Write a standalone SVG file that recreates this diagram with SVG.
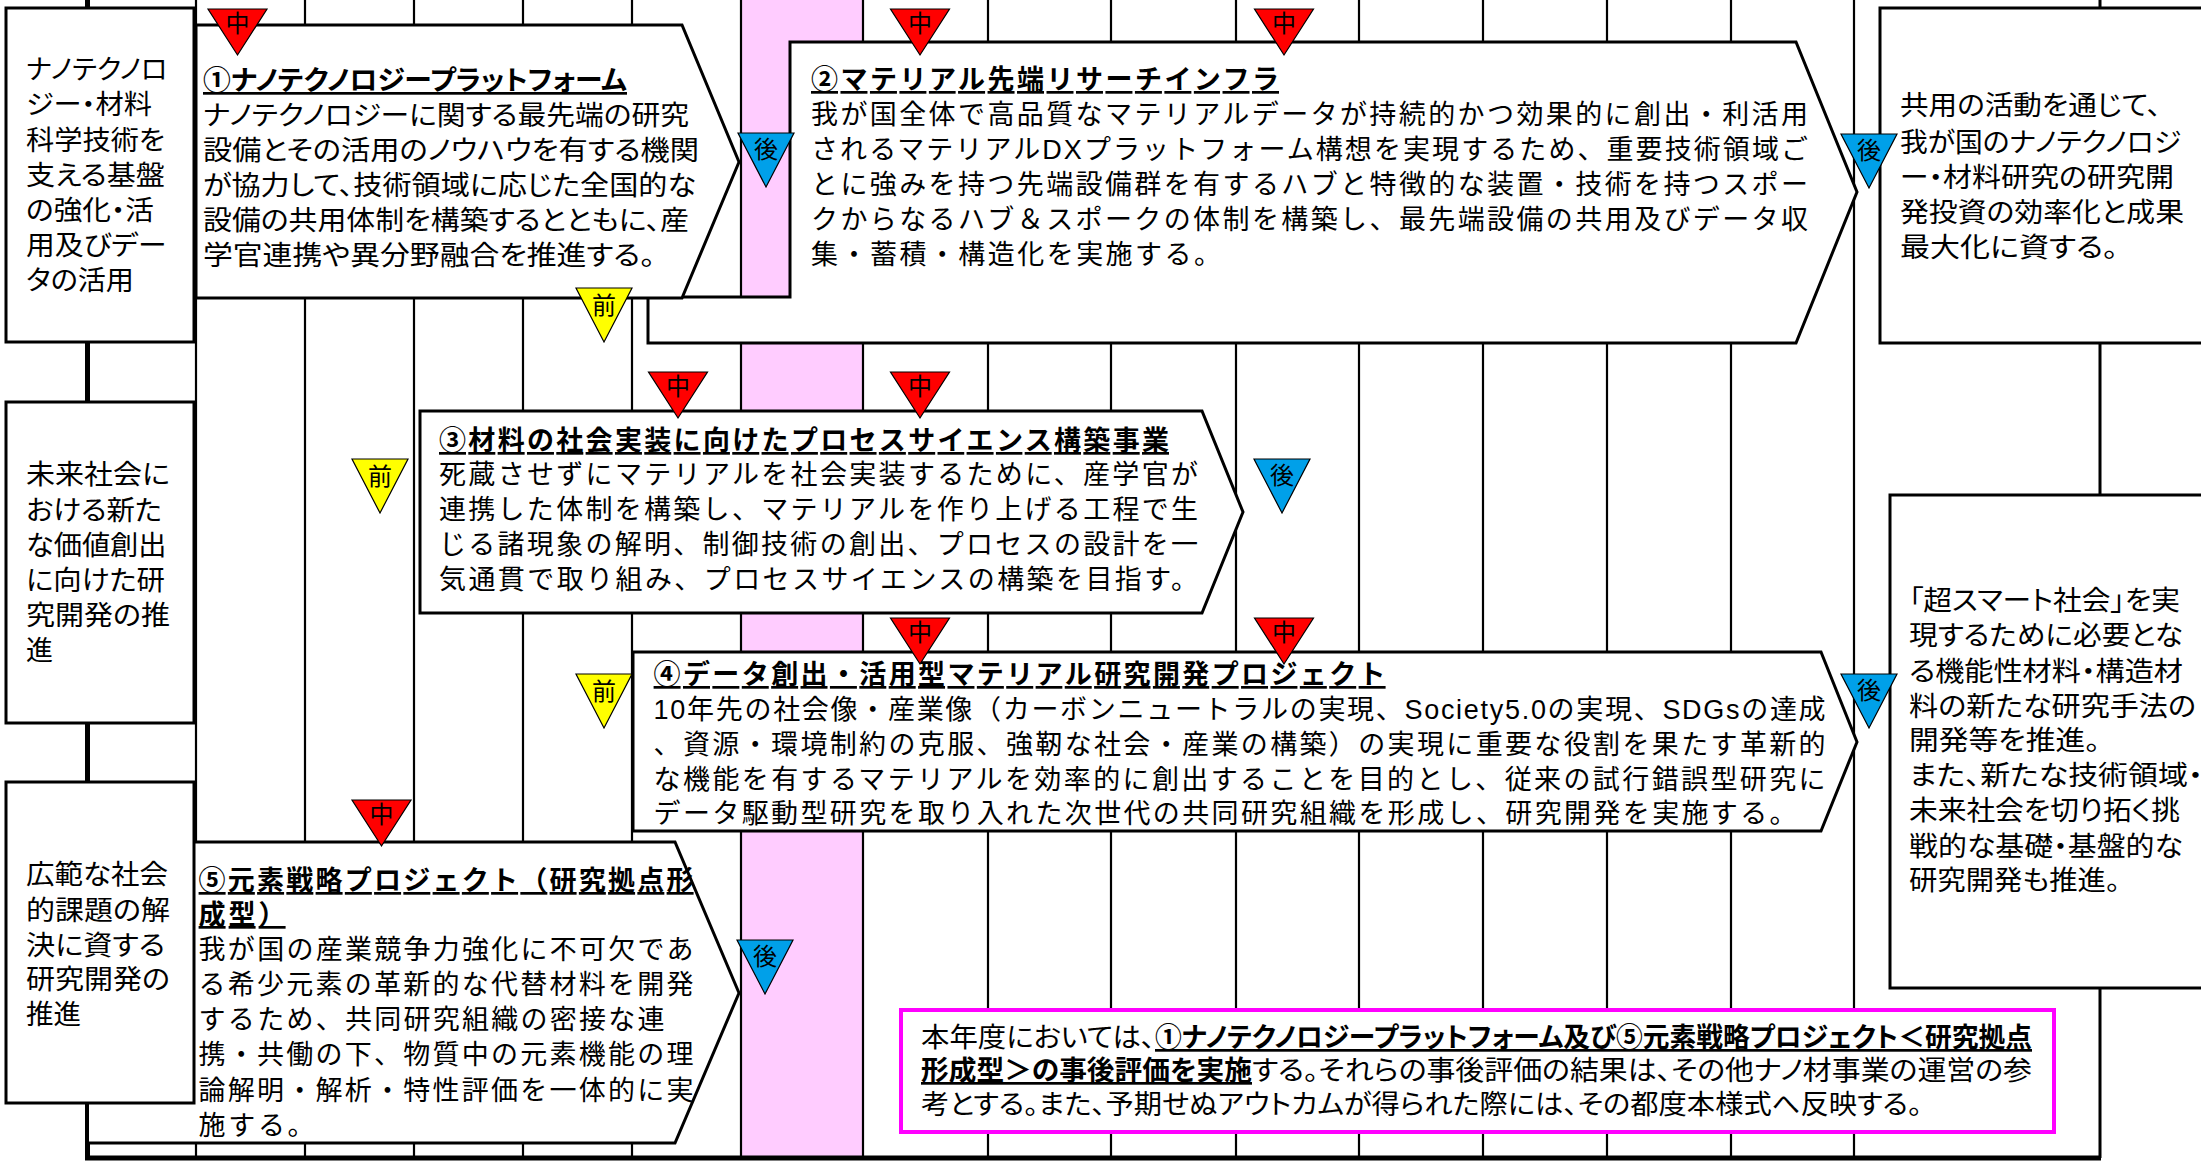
<svg xmlns="http://www.w3.org/2000/svg" xmlns:xlink="http://www.w3.org/1999/xlink" width="2201" height="1162" viewBox="0 0 2201 1162">
<style>
.grid{stroke:#000;stroke-width:2.2;fill:none}
.axis{stroke:#000;stroke-width:5;fill:none}
.box{fill:#fff;stroke:#000;stroke-width:3}
.note{fill:#fff;stroke:#FF00FF;stroke-width:4}
.t{font-family:"Liberation Sans","Noto Sans CJK JP",sans-serif;font-size:27px;fill:#000}
.p{font-feature-settings:"palt"}
.b{font-weight:bold}
.u{text-decoration:underline}
.m{font-family:"Liberation Sans","Noto Sans CJK JP",sans-serif;font-size:24px;fill:#000;text-anchor:middle}
.tr{stroke:#000;stroke-width:1.2}
.red{fill:#FF0000}
.yel{fill:#FFFF00}
.blu{fill:#00A0E9}
</style>
<defs>
<path id="triR" d="M0,0 H59 L29.5,46 Z"/>
<path id="triY" d="M0,0 H56 L28,54 Z"/>
</defs>
<rect width="2201" height="1162" fill="#fff"/>
<rect id="pink-column" x="741" y="0" width="122" height="1158" fill="#FFCCFF"/>
<g id="grid">
<line class="grid" x1="196" y1="0" x2="196" y2="1158"/>
<line class="grid" x1="305" y1="0" x2="305" y2="1158"/>
<line class="grid" x1="414" y1="0" x2="414" y2="1158"/>
<line class="grid" x1="523" y1="0" x2="523" y2="1158"/>
<line class="grid" x1="632" y1="0" x2="632" y2="1158"/>
<line class="grid" x1="741" y1="0" x2="741" y2="1158"/>
<line class="grid" x1="863" y1="0" x2="863" y2="1158"/>
<line class="grid" x1="988" y1="0" x2="988" y2="1158"/>
<line class="grid" x1="1111" y1="0" x2="1111" y2="1158"/>
<line class="grid" x1="1236" y1="0" x2="1236" y2="1158"/>
<line class="grid" x1="1359" y1="0" x2="1359" y2="1158"/>
<line class="grid" x1="1483" y1="0" x2="1483" y2="1158"/>
<line class="grid" x1="1607" y1="0" x2="1607" y2="1158"/>
<line class="grid" x1="1731" y1="0" x2="1731" y2="1158"/>
<line class="grid" x1="1854" y1="0" x2="1854" y2="1158"/>
<line class="grid" x1="2100" y1="0" x2="2100" y2="1158" style="stroke-width:3"/>
<line class="axis" x1="87.5" y1="0" x2="87.5" y2="1158"/>
<line class="axis" x1="85" y1="1158" x2="2101" y2="1158"/>
</g>

<g id="box5">
<polygon class="box" points="87.5,842 675,842 739,993 675,1143 87.5,1143"/>
<text class="t b u" x="198.6" y="890" textLength="495">⑤元素戦略プロジェクト（研究拠点形</text>
<text class="t b u" x="198.6" y="924" textLength="87">成型）</text>
<text class="t" x="198.6" y="959" textLength="495">我が国の産業競争力強化に不可欠であ</text>
<text class="t" x="198.6" y="994" textLength="495">る希少元素の革新的な代替材料を開発</text>
<text class="t" x="198.6" y="1029" textLength="466">するため、共同研究組織の密接な連</text>
<text class="t" x="198.6" y="1064" textLength="495">携・共働の下、物質中の元素機能の理</text>
<text class="t" x="198.6" y="1100" textLength="495">論解明・解析・特性評価を一体的に実</text>
<text class="t" x="198.6" y="1135" textLength="116">施する。</text>
</g>

<g id="left1">
<rect class="box" x="6" y="8" width="188" height="334"/>
<text class="t p" x="26" y="79" textLength="141.5" lengthAdjust="spacingAndGlyphs">ナノテクノロ</text>
<text class="t p" x="26" y="114" textLength="126" lengthAdjust="spacingAndGlyphs">ジー・材料</text>
<text class="t p" x="26" y="150" textLength="139" lengthAdjust="spacingAndGlyphs">科学技術を</text>
<text class="t p" x="26" y="185" textLength="139" lengthAdjust="spacingAndGlyphs">支える基盤</text>
<text class="t p" x="26" y="220" textLength="128" lengthAdjust="spacingAndGlyphs">の強化・活</text>
<text class="t p" x="26" y="255" textLength="140.5" lengthAdjust="spacingAndGlyphs">用及びデー</text>
<text class="t p" x="26" y="290" textLength="108" lengthAdjust="spacingAndGlyphs">タの活用</text>
</g>

<g id="left2">
<rect class="box" x="6" y="402" width="188" height="321"/>
<text class="t p" x="26" y="484" textLength="144" lengthAdjust="spacingAndGlyphs">未来社会に</text>
<text class="t p" x="26" y="520" textLength="136" lengthAdjust="spacingAndGlyphs">おける新た</text>
<text class="t p" x="26" y="555" textLength="140.5" lengthAdjust="spacingAndGlyphs">な価値創出</text>
<text class="t p" x="26" y="590" textLength="139" lengthAdjust="spacingAndGlyphs">に向けた研</text>
<text class="t p" x="26" y="625" textLength="144" lengthAdjust="spacingAndGlyphs">究開発の推</text>
<text class="t p" x="26" y="660">進</text>
</g>

<g id="left3">
<rect class="box" x="6" y="782" width="188" height="321"/>
<text class="t p" x="26" y="884" textLength="142" lengthAdjust="spacingAndGlyphs">広範な社会</text>
<text class="t p" x="26" y="920" textLength="144" lengthAdjust="spacingAndGlyphs">的課題の解</text>
<text class="t p" x="26" y="955" textLength="139" lengthAdjust="spacingAndGlyphs">決に資する</text>
<text class="t p" x="26" y="989" textLength="144" lengthAdjust="spacingAndGlyphs">研究開発の</text>
<text class="t p" x="26" y="1024" textLength="55" lengthAdjust="spacingAndGlyphs">推進</text>
</g>

<g id="box2">
<polygon class="box" points="790,42 1796,42 1857,192 1796,343 648,343 648,297 790,297"/>
<text class="t b u" x="811" y="89" textLength="468">②マテリアル先端リサーチインフラ</text>
<text class="t" x="811" y="124" textLength="997">我が国全体で高品質なマテリアルデータが持続的かつ効果的に創出・利活用</text>
<text class="t" x="811" y="159" textLength="997">されるマテリアルDXプラットフォーム構想を実現するため、重要技術領域ご</text>
<text class="t" x="811" y="194" textLength="997">とに強みを持つ先端設備群を有するハブと特徴的な装置・技術を持つスポー</text>
<text class="t" x="811" y="229" textLength="997">クからなるハブ＆スポークの体制を構築し、最先端設備の共用及びデータ収</text>
<text class="t" x="811" y="264" textLength="410">集・蓄積・構造化を実施する。</text>
</g>

<g id="box1">
<polygon class="box" points="196,25 682,25 739,162 682,298 196,298"/>
<text class="t b u p" x="203" y="90" textLength="424" lengthAdjust="spacingAndGlyphs">①ナノテクノロジープラットフォーム</text>
<text class="t p" x="203" y="125" textLength="486" lengthAdjust="spacingAndGlyphs">ナノテクノロジーに関する最先端の研究</text>
<text class="t p" x="203" y="160" textLength="496" lengthAdjust="spacingAndGlyphs">設備とその活用のノウハウを有する機関</text>
<text class="t p" x="203" y="195" textLength="493" lengthAdjust="spacingAndGlyphs">が協力して、技術領域に応じた全国的な</text>
<text class="t p" x="203" y="230" textLength="486" lengthAdjust="spacingAndGlyphs">設備の共用体制を構築するとともに、産</text>
<text class="t p" x="203" y="265" textLength="452" lengthAdjust="spacingAndGlyphs">学官連携や異分野融合を推進する。</text>
</g>

<g id="box6">
<rect class="box" x="1880" y="8" width="330" height="335"/>
<text class="t p" x="1900" y="115" textLength="261" lengthAdjust="spacingAndGlyphs">共用の活動を通じて、</text>
<text class="t p" x="1900" y="152" textLength="281" lengthAdjust="spacingAndGlyphs">我が国のナノテクノロジ</text>
<text class="t p" x="1900" y="187" textLength="274" lengthAdjust="spacingAndGlyphs">ー・材料研究の研究開</text>
<text class="t p" x="1900" y="222" textLength="284" lengthAdjust="spacingAndGlyphs">発投資の効率化と成果</text>
<text class="t p" x="1900" y="257" textLength="218" lengthAdjust="spacingAndGlyphs">最大化に資する。</text>
</g>

<g id="box3">
<polygon class="box" points="420,411 1202,411 1243,512 1202,613 420,613"/>
<text class="t b u" x="439" y="450" textLength="730">③材料の社会実装に向けたプロセスサイエンス構築事業</text>
<text class="t" x="439" y="484" textLength="759">死蔵させずにマテリアルを社会実装するために、産学官が</text>
<text class="t" x="439" y="519" textLength="759">連携した体制を構築し、マテリアルを作り上げる工程で生</text>
<text class="t" x="439" y="554" textLength="759">じる諸現象の解明、制御技術の創出、プロセスの設計を一</text>
<text class="t" x="439" y="589" textLength="759">気通貫で取り組み、プロセスサイエンスの構築を目指す。</text>
</g>

<g id="box4">
<polygon class="box" points="633,652 1821,652 1857,742 1821,831 633,831"/>
<text class="t b u" x="653.6" y="684" textLength="732">④データ創出・活用型マテリアル研究開発プロジェクト</text>
<text class="t" x="653.6" y="719" textLength="1172">10年先の社会像・産業像（カーボンニュートラルの実現、Society5.0の実現、SDGsの達成</text>
<text class="t" x="653.6" y="754" textLength="1172">、資源・環境制約の克服、強靭な社会・産業の構築）の実現に重要な役割を果たす革新的</text>
<text class="t" x="653.6" y="789" textLength="1172">な機能を有するマテリアルを効率的に創出することを目的とし、従来の試行錯誤型研究に</text>
<text class="t" x="653.6" y="823" textLength="1143">データ駆動型研究を取り入れた次世代の共同研究組織を形成し、研究開発を実施する。</text>
</g>

<g id="box7">
<rect class="box" x="1890" y="495" width="320" height="493"/>
<text class="t p" x="1909" y="610" textLength="271" lengthAdjust="spacingAndGlyphs">「超スマート社会」を実</text>
<text class="t p" x="1909" y="645" textLength="274" lengthAdjust="spacingAndGlyphs">現するために必要とな</text>
<text class="t p" x="1909" y="681" textLength="274" lengthAdjust="spacingAndGlyphs">る機能性材料・構造材</text>
<text class="t p" x="1909" y="716" textLength="287" lengthAdjust="spacingAndGlyphs">料の新たな研究手法の</text>
<text class="t p" x="1909" y="750" textLength="191" lengthAdjust="spacingAndGlyphs">開発等を推進。</text>
<text class="t p" x="1909" y="785" textLength="294" lengthAdjust="spacingAndGlyphs">また、新たな技術領域・</text>
<text class="t p" x="1909" y="820" textLength="271" lengthAdjust="spacingAndGlyphs">未来社会を切り拓く挑</text>
<text class="t p" x="1909" y="856" textLength="274" lengthAdjust="spacingAndGlyphs">戦的な基礎・基盤的な</text>
<text class="t p" x="1909" y="890" textLength="211" lengthAdjust="spacingAndGlyphs">研究開発も推進。</text>
</g>

<g id="note">
<rect class="note" x="901" y="1010" width="1153" height="122"/>
<text class="t p" x="921" y="1047" textLength="234" lengthAdjust="spacingAndGlyphs">本年度においては、</text>
<text class="t p b u" x="1155" y="1047" textLength="877" lengthAdjust="spacingAndGlyphs">①ナノテクノロジープラットフォーム及び⑤元素戦略プロジェクト＜研究拠点</text>
<text class="t p b u" x="921" y="1080" textLength="331" lengthAdjust="spacingAndGlyphs">形成型＞の事後評価を実施</text>
<text class="t p" x="1252" y="1080" textLength="780" lengthAdjust="spacingAndGlyphs">する。それらの事後評価の結果は、その他ナノ材事業の運営の参</text>
<text class="t p" x="921" y="1114" textLength="1001" lengthAdjust="spacingAndGlyphs">考とする。また、予期せぬアウトカムが得られた際には、その都度本様式へ反映する。</text>
</g>

<g id="markers">
<g id="m-mid-1"><use href="#triR" class="tr red" x="208" y="9"/><text class="m" x="237.5" y="32">中</text></g>
<g id="m-mid-2"><use href="#triR" class="tr red" x="890.5" y="9"/><text class="m" x="920" y="32">中</text></g>
<g id="m-mid-3"><use href="#triR" class="tr red" x="1254.5" y="9"/><text class="m" x="1284" y="32">中</text></g>
<g id="m-mid-4"><use href="#triR" class="tr red" x="648.5" y="372"/><text class="m" x="678" y="395">中</text></g>
<g id="m-mid-5"><use href="#triR" class="tr red" x="890.5" y="372"/><text class="m" x="920" y="395">中</text></g>
<g id="m-mid-6"><use href="#triR" class="tr red" x="890.5" y="618"/><text class="m" x="920" y="641">中</text></g>
<g id="m-mid-7"><use href="#triR" class="tr red" x="1254.5" y="618"/><text class="m" x="1284" y="641">中</text></g>
<g id="m-mid-8"><use href="#triR" class="tr red" x="352" y="800"/><text class="m" x="381.5" y="823">中</text></g>
<g id="m-pre-1"><use href="#triY" class="tr yel" x="576" y="288"/><text class="m" x="604" y="314">前</text></g>
<g id="m-pre-2"><use href="#triY" class="tr yel" x="352" y="459"/><text class="m" x="380" y="485">前</text></g>
<g id="m-pre-3"><use href="#triY" class="tr yel" x="576" y="674"/><text class="m" x="604" y="700">前</text></g>
<g id="m-post-1"><use href="#triY" class="tr blu" x="738" y="133"/><text class="m" x="766" y="158">後</text></g>
<g id="m-post-2"><use href="#triY" class="tr blu" x="1841" y="134"/><text class="m" x="1869" y="159">後</text></g>
<g id="m-post-3"><use href="#triY" class="tr blu" x="1254" y="459"/><text class="m" x="1282" y="484">後</text></g>
<g id="m-post-4"><use href="#triY" class="tr blu" x="1841" y="674"/><text class="m" x="1869" y="699">後</text></g>
<g id="m-post-5"><use href="#triY" class="tr blu" x="737" y="940"/><text class="m" x="765" y="965">後</text></g>
</g>
</svg>
